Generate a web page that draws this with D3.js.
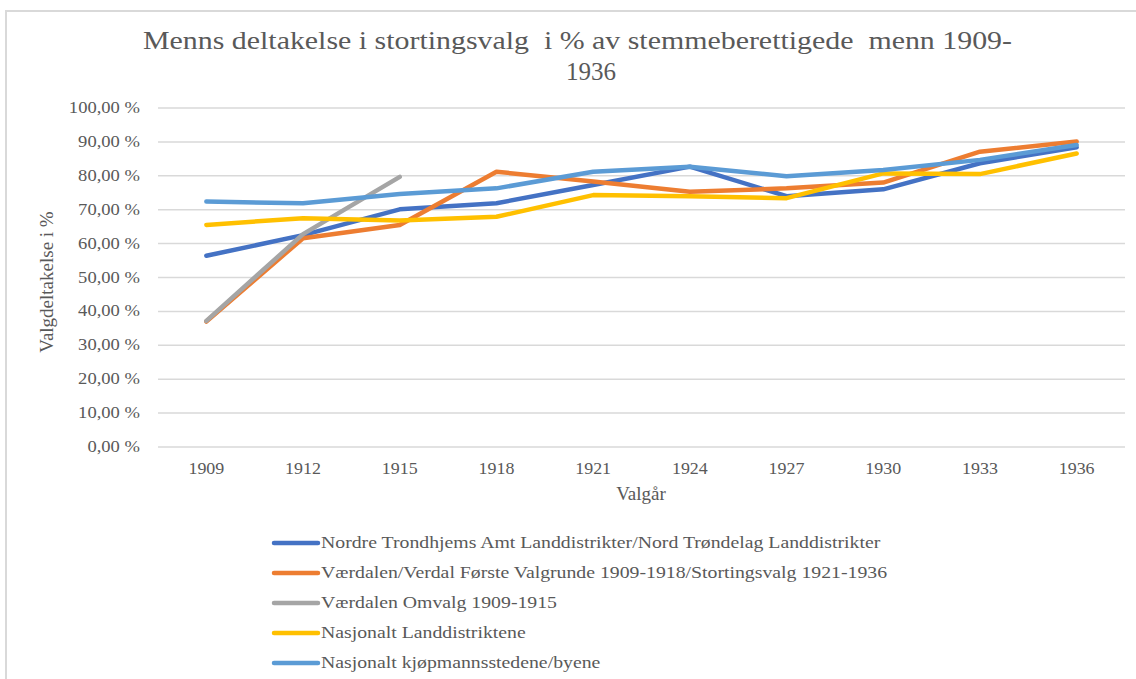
<!DOCTYPE html>
<html>
<head>
<meta charset="utf-8">
<script src="https://cdn.jsdelivr.net/npm/d3@7"></script>
<style>
  body { margin: 0; background: #fff; }
  svg text { font-family: "Liberation Serif", "DejaVu Serif", serif; fill: #595959; white-space: pre; }
</style>
</head>
<body>
<script>
// chart data
var years = ["1909","1912","1915","1918","1921","1924","1927","1930","1933","1936"];
var seriesNames = [
  "Nordre Trondhjems Amt Landdistrikter/Nord Trøndelag Landdistrikter",
  "Værdalen/Verdal Første Valgrunde 1909-1918/Stortingsvalg 1921-1936",
  "Værdalen Omvalg 1909-1915",
  "Nasjonalt Landdistriktene",
  "Nasjonalt kjøpmannsstedene/byene"
];
var nordTrondelag = [56.4, 62.5, 70.1, 71.9, 77.3, 82.7, 74.0, 76.0, 83.7, 88.4];
var verdal        = [37.0, 61.6, 65.5, 81.2, 78.3, 75.3, 76.3, 78.0, 87.1, 90.1];
var omvalg        = [37.2, 62.8, 79.7, null, null, null, null, null, null, null];
var landdistrikt  = [65.5, 67.5, 66.8, 67.9, 74.3, 74.0, 73.4, 80.7, 80.5, 86.6];
var byene         = [72.4, 71.9, 74.6, 76.3, 81.2, 82.7, 79.9, 81.7, 84.7, 89.1];
var yTicks = [0,10,20,30,40,50,60,70,80,90,100];
var colors = ["#4472C4","#ED7D31","#A5A5A5","#FFC000","#5B9BD5"];

var allSeries = [nordTrondelag, verdal, omvalg, landdistrikt, byene];

var W = 1136, H = 679;
var svg = d3.select("body").append("svg").attr("width", W).attr("height", H);

// the picture is a bit wider than the font, stretch text horizontally
function stretch(sel, k){
  sel.each(function(){
    var len = this.getComputedTextLength();
    d3.select(this).attr("textLength", len * k).attr("lengthAdjust", "spacingAndGlyphs");
  });
}

// chart frame
svg.append("rect").attr("x", 6).attr("y", 11).attr("width", 1150).attr("height", 700)
  .attr("fill", "none").attr("stroke", "#d9d9d9").attr("stroke-width", 2);

var plot = {left: 158, right: 1125, top: 108, bottom: 447};

var x = d3.scaleBand().domain(years).range([plot.left, plot.right]);
var y = d3.scaleLinear().domain([0, 100]).range([plot.bottom, plot.top]);

// gridlines
svg.append("g").selectAll("line").data(yTicks).enter().append("line")
  .attr("x1", plot.left).attr("x2", plot.right)
  .attr("y1", function(d){ return y(d); }).attr("y2", function(d){ return y(d); })
  .attr("stroke", "#d9d9d9").attr("stroke-width", 1.5);

// y tick labels
var yl = svg.append("g").selectAll("text").data(yTicks).enter().append("text")
  .attr("x", 140).attr("y", function(d){ return y(d) + 5; })
  .attr("text-anchor", "end").style("font-size", "16px")
  .text(function(d){ return d3.format(".2f")(d).replace(".", ",") + " %"; });
stretch(yl, 1.16);

// x tick labels
var xl = svg.append("g").selectAll("text").data(years).enter().append("text")
  .attr("x", function(d){ return x(d) + x.bandwidth()/2; }).attr("y", 474)
  .attr("text-anchor", "middle").style("font-size", "16px")
  .text(function(d){ return d; });
stretch(xl, 1.12);

// lines
var line = d3.line()
  .defined(function(d){ return d != null; })
  .x(function(d, i){ return x(years[i]) + x.bandwidth()/2; })
  .y(function(d){ return y(d); });

svg.append("g").selectAll("path").data(allSeries).enter().append("path")
  .attr("d", line)
  .attr("fill", "none")
  .attr("stroke", function(d, i){ return colors[i]; })
  .attr("stroke-width", 4.5)
  .attr("stroke-linecap", "round")
  .attr("stroke-linejoin", "round");

// title
var t1 = svg.append("text").attr("x", 143).attr("y", 49).style("font-size", "25px")
  .text("Menns deltakelse i stortingsvalg  i % av stemmeberettigede  menn 1909-");
t1.attr("textLength", 869).attr("lengthAdjust", "spacingAndGlyphs");
svg.append("text").attr("x", 591).attr("y", 80).attr("text-anchor", "middle").style("font-size", "25px")
  .text("1936");

// axis titles
svg.append("text").attr("x", 641).attr("y", 500).attr("text-anchor", "middle").style("font-size", "19px")
  .text("Valgår");
svg.append("text").attr("transform", "translate(53,282) rotate(-90)").attr("text-anchor", "middle")
  .style("font-size", "19px").text("Valgdeltakelse i %");

// legend
var legend = svg.append("g").selectAll("g").data(seriesNames).enter().append("g")
  .attr("transform", function(d, i){ return "translate(272," + (543 + i*30) + ")"; });
legend.append("line").attr("x1", 2).attr("x2", 46).attr("y1", 0).attr("y2", 0)
  .attr("stroke", function(d, i){ return colors[i]; }).attr("stroke-width", 4.5)
  .attr("stroke-linecap", "round");
var lt = legend.append("text").attr("x", 49).attr("y", 5).style("font-size", "16px")
  .text(function(d){ return d; });
stretch(lt, 1.235);
</script>
</body>
</html>
